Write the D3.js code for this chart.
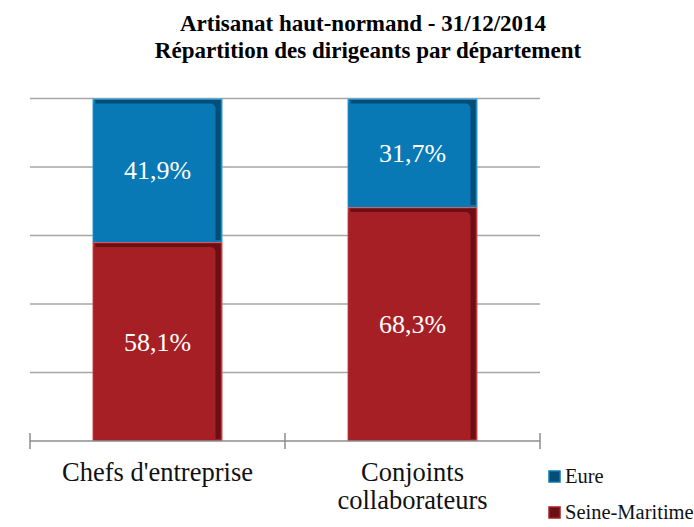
<!DOCTYPE html>
<head>
<style>
  body { margin: 0; background: #fff; }
</style>
</head>
<body>
<svg width="694" height="527"></svg>
<script src="https://d3js.org/d3.v7.min.js"></script>
<script>

var categories = [["Chefs d'entreprise"], ["Conjoints", "collaborateurs"]];
var seriesNames = ["Seine-Maritime", "Eure"];
var seineMaritime = [0.581, 0.683];
var eure = [0.419, 0.317];
var gridTicks = [0, 0.2, 0.4, 0.6, 0.8, 1];

var colors = {
  "Eure": { main: "#0879b5", dark: "#034d77", edge: "#45a3d3" },
  "Seine-Maritime": { main: "#a61f25", dark: "#6a0f13", edge: "#cf5d60" }
};
var FONT = "'Liberation Serif'";

var svg = d3.select("svg");

var x = d3.scaleBand()
    .domain(d3.range(categories.length))
    .range([30, 540])
    .paddingInner(0.49)
    .paddingOuter(0.245);

var y = d3.scaleLinear().domain([0, 1]).range([441, 98.5]);

var fmt = function(v) { return d3.format(".1f")(v * 100).replace(".", ",") + "%"; };

// title
svg.append("text")
    .attr("x", 363).attr("y", 31)
    .attr("text-anchor", "middle")
    .style("font-family", FONT)
    .attr("font-size", 23).attr("font-weight", "bold")
    .text("Artisanat haut-normand - 31/12/2014");
svg.append("text")
    .attr("x", 368).attr("y", 58)
    .attr("text-anchor", "middle")
    .style("font-family", FONT)
    .attr("font-size", 23).attr("font-weight", "bold")
    .text("Répartition des dirigeants par département");

// gridlines
svg.append("g").selectAll("line")
    .data(gridTicks.slice(1))
  .enter().append("line")
    .attr("x1", 30).attr("x2", 540)
    .attr("y1", function(d) { return y(d); })
    .attr("y2", function(d) { return y(d); })
    .attr("stroke", "#a6a6a6")
    .attr("stroke-width", 1.5);

// stacked data
var rows = categories.map(function(c, i) {
  return { i: i, "Seine-Maritime": seineMaritime[i], "Eure": eure[i] };
});
var stack = d3.stack().keys(seriesNames)(rows);

stack.forEach(function(layer) {
  var key = layer.key, c = colors[key];
  var g = svg.append("g");
  layer.forEach(function(d) {
    var x0 = x(d.data.i), w = x.bandwidth();
    var top = y(d[1]), bot = y(d[0]), h = bot - top;
    // base with light edge
    g.append("rect")
        .attr("x", x0).attr("y", top).attr("width", w).attr("height", h)
        .attr("fill", c.edge);
    g.append("rect")
        .attr("x", x0 + 1).attr("y", top + 1).attr("width", w - 2).attr("height", h - 1)
        .attr("fill", c.main);
    // dark bevel
    g.append("rect")
        .attr("x", x0 + 3).attr("y", top + 1.5).attr("width", w - 5).attr("height", h - 3.5)
        .attr("fill", c.dark);
    // inner face with rounded top-right corner
    var p = d3.path(), l = x0 + 1, r = x0 + w - 7, t = top + 5, b = bot, rad = 5;
    p.moveTo(l, t);
    p.lineTo(r - rad, t);
    p.arcTo(r, t, r, t + rad, rad);
    p.lineTo(r, b);
    p.lineTo(l, b);
    p.closePath();
    g.append("path").attr("d", p.toString()).attr("fill", c.main);
    // value label
    g.append("text")
        .attr("x", x0 + w / 2)
        .attr("y", (top + bot) / 2 + 9)
        .attr("text-anchor", "middle")
        .style("font-family", FONT)
        .attr("font-size", 26)
        .attr("fill", "#fff")
        .text(fmt(d[1] - d[0]));
  });
});

// x axis
svg.append("line")
    .attr("x1", 30).attr("x2", 540)
    .attr("y1", y(0)).attr("y2", y(0))
    .attr("stroke", "#8c8c8c").attr("stroke-width", 1.5);
var bounds = [30].concat(categories.map(function(c, i) { return x(i) + x.bandwidth() / 2 + x.step() / 2; }));
svg.append("g").selectAll("line")
    .data(bounds)
  .enter().append("line")
    .attr("x1", function(d) { return d; }).attr("x2", function(d) { return d; })
    .attr("y1", y(0) - 8).attr("y2", y(0) + 8)
    .attr("stroke", "#8c8c8c").attr("stroke-width", 1.5);

// category labels
var lab = svg.append("g").selectAll("text")
    .data(categories)
  .enter().append("text")
    .attr("text-anchor", "middle")
    .style("font-family", FONT)
    .attr("font-size", 26.5)
    .attr("fill", "#111");
lab.selectAll("tspan")
    .data(function(d, i) { return d.map(function(t) { return { t: t, i: i }; }); })
  .enter().append("tspan")
    .attr("x", function(d) { return x(d.i) + x.bandwidth() / 2; })
    .attr("y", function(d, j) { return 481 + j * 28; })
    .text(function(d) { return d.t; });

// legend
var legend = svg.append("g").selectAll("g")
    .data(["Eure", "Seine-Maritime"])
  .enter().append("g")
    .attr("transform", function(d, i) { return "translate(549," + (471 + i * 36) + ")"; });
legend.append("rect")
    .attr("width", 11).attr("height", 11)
    .attr("fill", function(d) { return colors[d].dark; })
    .attr("stroke", function(d) { return colors[d].main; })
    .attr("stroke-width", 1.5);
legend.append("text")
    .attr("x", 16).attr("y", 12)
    .style("font-family", FONT)
    .attr("font-size", 20.5)
    .attr("fill", "#111")
    .text(function(d) { return d; });

</script>
</body>
